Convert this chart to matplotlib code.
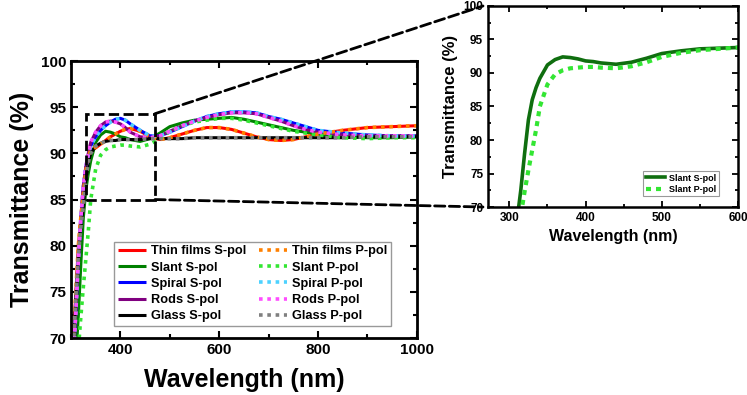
import matplotlib
matplotlib.use("Agg")
import matplotlib.pyplot as plt
from matplotlib.patches import Rectangle, ConnectionPatch
from matplotlib.ticker import MultipleLocator

plt.rcParams['font.family'] = ['Liberation Sans', 'DejaVu Sans']
plt.rcParams['font.weight'] = 'bold'

# ---------------- data ----------------
wavelength = [305, 310, 315, 320, 325, 330, 335, 340, 350, 360, 370, 380, 390, 400, 410,
              420, 440, 460, 480, 500, 525, 550, 575, 600, 625, 650, 675, 700, 725, 750,
              775, 800, 850, 900, 950, 1000]

thin_s = [70.0, 75.0, 80.0, 83.0, 85.5, 88.0, 89.5, 90.3, 90.6, 91.0, 91.4, 91.8, 92.1, 92.4, 92.6,
          92.7, 92.4, 91.8, 91.5, 91.7, 92.1, 92.5, 92.8, 92.8, 92.6, 92.2, 91.8, 91.5, 91.4, 91.5,
          91.8, 92.1, 92.5, 92.8, 92.9, 93.0]
thin_p = [70.2, 75.2, 80.1, 83.1, 85.6, 88.1, 89.6, 90.4, 90.7, 91.0, 91.4, 91.8, 92.1, 92.4, 92.6,
          92.7, 92.4, 91.8, 91.5, 91.7, 92.1, 92.5, 92.8, 92.8, 92.6, 92.2, 91.8, 91.5, 91.4, 91.5,
          91.8, 92.1, 92.5, 92.8, 92.9, 93.0]
slant_s = [64.0, 68.0, 72.5, 78.0, 83.0, 86.0, 87.8, 89.2, 91.2, 92.0, 92.4, 92.3, 92.1, 91.8, 91.7,
           91.5, 91.3, 91.6, 92.2, 92.9, 93.3, 93.6, 93.7, 93.8, 93.9, 93.7, 93.4, 93.1, 92.8, 92.5,
           92.3, 92.1, 91.8, 91.7, 91.7, 91.8]
slant_p = [63.0, 66.0, 68.8, 72.3, 75.5, 78.5, 81.5, 85.0, 88.3, 89.8, 90.4, 90.7, 90.8, 90.9, 90.9,
           90.8, 90.7, 91.0, 91.6, 92.4, 93.0, 93.4, 93.6, 93.8, 93.8, 93.6, 93.3, 93.0, 92.7, 92.4,
           92.2, 92.0, 91.7, 91.6, 91.7, 91.7]
spiral_s = [68.0, 73.0, 78.5, 83.0, 86.5, 88.5, 89.8, 90.8, 91.8, 92.5, 93.0, 93.4, 93.7, 93.8, 93.6,
            93.2, 92.5, 91.9, 91.9, 92.3, 92.9, 93.5, 94.0, 94.3, 94.5, 94.5, 94.4, 94.0, 93.7, 93.3,
            92.9, 92.5, 92.2, 92.0, 91.9, 91.9]
spiral_p = [68.0, 73.0, 78.5, 83.0, 86.5, 88.5, 89.8, 90.8, 91.8, 92.5, 93.0, 93.4, 93.7, 93.8, 93.6,
            93.2, 92.5, 91.9, 91.9, 92.3, 92.9, 93.5, 94.0, 94.3, 94.5, 94.5, 94.4, 94.0, 93.7, 93.3,
            92.9, 92.5, 92.2, 92.0, 91.9, 91.9]
rods_s = [68.0, 73.0, 78.5, 83.0, 86.5, 88.5, 90.0, 91.2, 92.3, 93.0, 93.4, 93.5, 93.4, 93.2, 92.8,
          92.3, 91.8, 91.7, 91.9, 92.4, 93.0, 93.5, 93.9, 94.2, 94.4, 94.4, 94.3, 93.9, 93.5, 93.0,
          92.6, 92.3, 92.0, 91.9, 91.9, 91.9]
rods_p = [68.0, 73.0, 78.5, 83.0, 86.5, 88.5, 90.0, 91.2, 92.3, 93.0, 93.4, 93.5, 93.4, 93.2, 92.8,
          92.3, 91.8, 91.7, 91.9, 92.4, 93.0, 93.5, 93.9, 94.2, 94.4, 94.4, 94.3, 93.9, 93.5, 93.0,
          92.6, 92.3, 92.0, 91.9, 91.9, 91.9]
glass_s = [69.3, 74.5, 79.0, 82.0, 84.3, 87.0, 89.0, 90.0, 90.8, 91.1, 91.3, 91.4, 91.4, 91.5, 91.5,
           91.5, 91.5, 91.6, 91.6, 91.6, 91.6, 91.7, 91.7, 91.7, 91.7, 91.7, 91.7, 91.7, 91.7, 91.7,
           91.7, 91.7, 91.7, 91.8, 91.8, 91.8]
glass_p = [69.3, 74.5, 79.0, 82.0, 84.3, 87.0, 89.0, 90.0, 90.8, 91.1, 91.3, 91.4, 91.4, 91.5, 91.5,
           91.5, 91.5, 91.6, 91.6, 91.6, 91.6, 91.7, 91.7, 91.7, 91.7, 91.7, 91.7, 91.7, 91.7, 91.7,
           91.7, 91.7, 91.7, 91.8, 91.8, 91.8]

s_labels = ['Thin films S-pol', 'Slant S-pol', 'Spiral S-pol', 'Rods S-pol', 'Glass S-pol']
p_labels = ['Thin films P-pol', 'Slant P-pol', 'Spiral P-pol', 'Rods P-pol', 'Glass P-pol']
s_series = [thin_s, slant_s, spiral_s, rods_s, glass_s]
p_series = [thin_p, slant_p, spiral_p, rods_p, glass_p]
s_colors = ['#ff0000', '#008000', '#0000ff', '#800080', '#000000']
p_colors = ['#ff8000', '#33e633', '#4dd2ff', '#ff4dff', '#808080']

main_yticks = [70, 75, 80, 85, 90, 95, 100]
main_xticks = [400, 600, 800, 1000]
inset_xticks = [300, 400, 500, 600]
inset_yticks = [70, 75, 80, 85, 90, 95, 100]

# ---------------- figure ----------------
fig = plt.figure(figsize=(7.47, 3.95), dpi=100)
ax = fig.add_axes([0.095, 0.1443, 0.463, 0.701])
axin = fig.add_axes([0.6533, 0.4759, 0.3347, 0.509])

p_style = (0, (1.0, 1.3))
s_handles, p_handles = [], []
for y, c, lab in zip(s_series, s_colors, s_labels):
    h, = ax.plot(wavelength, y, color=c, lw=2.2, label=lab, solid_capstyle='butt')
    s_handles.append(h)
for y, c, lab in zip(p_series, p_colors, p_labels):
    h, = ax.plot(wavelength, y, color=c, lw=2.6, ls=p_style, label=lab)
    p_handles.append(h)

ax.set_xlim(300, 1000)
ax.set_ylim(70, 100)
ax.set_xticks(main_xticks)
ax.set_yticks(main_yticks)
ax.xaxis.set_minor_locator(MultipleLocator(100))
ax.yaxis.set_minor_locator(MultipleLocator(2.5))
ax.tick_params(which='both', direction='in', top=True, right=True, width=1.5, labelsize=11)
ax.tick_params(which='major', length=5)
ax.tick_params(which='minor', length=3)
for sp in ax.spines.values():
    sp.set_linewidth(2)
ax.set_xlabel('Wavelength (nm)', fontsize=18, fontweight='bold', labelpad=8)
ax.set_ylabel('Transmittance (%)', fontsize=18, fontweight='bold', labelpad=5)
for t in ax.get_xticklabels() + ax.get_yticklabels():
    t.set_fontweight('bold')

leg = ax.legend(s_handles + p_handles, s_labels + p_labels, ncol=2, loc='lower right',
                bbox_to_anchor=(0.945, 0.02), frameon=True, fancybox=False,
                edgecolor='#808080', handlelength=2.2, handletextpad=0.4, columnspacing=1.0,
                labelspacing=0.33, borderpad=0.3, prop={'weight': 'bold', 'size': 9.2})
leg.get_frame().set_linewidth(1.0)

# zoom box
rect = Rectangle((330, 85), 140, 9.3, fill=False, ls='--', lw=2, ec='black', zorder=5)
ax.add_patch(rect)

# inset
axin.plot(wavelength, slant_s, color='#0f6e0f', lw=2.6, label='Slant S-pol')
axin.plot(wavelength, slant_p, color='#33e633', lw=3.0, ls=(0, (1.2, 1.2)), label='Slant P-pol')
axin.set_xlim(272, 600)
axin.set_ylim(70, 100)
axin.set_xticks(inset_xticks)
axin.set_yticks(inset_yticks)
axin.xaxis.set_minor_locator(MultipleLocator(50))
axin.yaxis.set_minor_locator(MultipleLocator(2.5))
axin.tick_params(which='both', direction='in', top=True, right=True, width=1.3, labelsize=8.5)
axin.tick_params(which='major', length=4)
axin.tick_params(which='minor', length=2.5)
for sp in axin.spines.values():
    sp.set_linewidth(1.8)
axin.set_xlabel('Wavelength (nm)', fontsize=11.5, fontweight='bold', labelpad=4)
axin.set_ylabel('Transmittance (%)', fontsize=12, fontweight='bold', labelpad=4)
for t in axin.get_xticklabels() + axin.get_yticklabels():
    t.set_fontweight('bold')
leg2 = axin.legend(loc='lower right', bbox_to_anchor=(0.94, 0.03), fancybox=False,
                   edgecolor='#808080', handlelength=2.1, handletextpad=0.5, labelspacing=0.3,
                   borderpad=0.25, prop={'weight': 'bold', 'size': 6.5})
leg2.get_frame().set_linewidth(0.8)

# connector lines
for ya, yb in [(94.3, 1.0), (85, 0.0)]:
    con = ConnectionPatch(xyA=(470, ya), coordsA=ax.transData,
                          xyB=(-0.02, yb), coordsB=axin.transAxes,
                          ls='--', lw=2, color='black')
    fig.add_artist(con)

fig.savefig('out.png', dpi=100)
